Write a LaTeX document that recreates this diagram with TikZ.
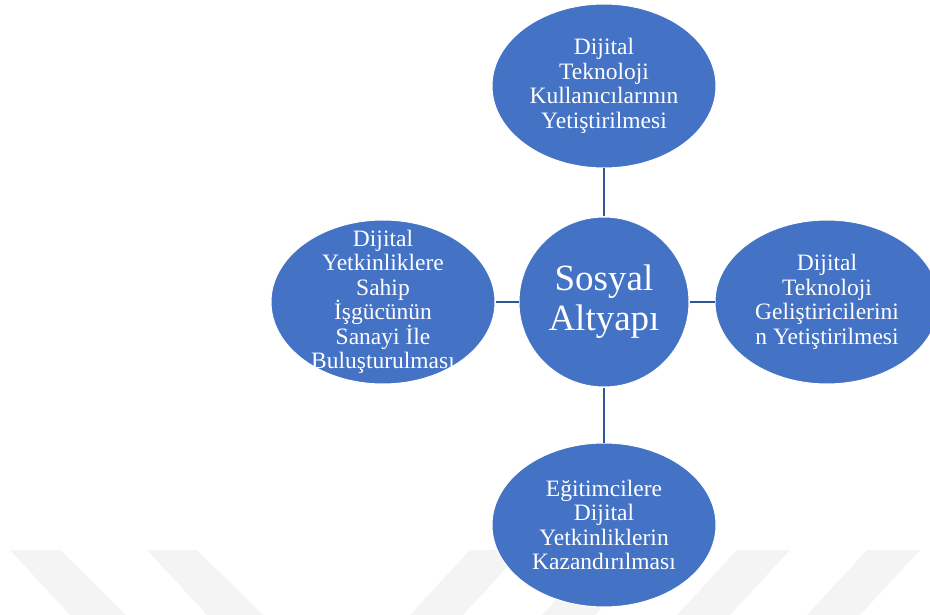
\documentclass[tikz,border=0pt]{standalone}
\usepackage{fontspec}
\setmainfont{Liberation Serif}
\usetikzlibrary{shapes.geometric, positioning}
\definecolor{ofisblue}{HTML}{4472C4}
\definecolor{linkblue}{HTML}{2F5597}
\tikzset{
	goal/.style = {ellipse, draw = white, line width = 1pt, fill = ofisblue, text = white, inner sep = 0pt, minimum width = 224pt, minimum height = 164pt, align = center, font = \fontsize{23.5}{24.5}\selectfont},
	core/.style = {circle, draw = white, line width = 1pt, fill = ofisblue, text = white, inner sep = 0pt, minimum size = 170pt, align = center, font = \fontsize{37}{40}\selectfont},
	linkline/.style = {draw = linkblue, line width = 2pt},
	stripe/.style = {fill = gray!9}
}

\begin{document}
\begin{tikzpicture}[x = 1pt, y = -1pt, on grid]
		\useasboundingbox (0,0) rectangle (930,615);
		\fill[stripe] (10,550) -- (60,550) -- (126,615) -- (70,615) -- cycle;
		\fill[stripe] (147,550) -- (197,550) -- (263,615) -- (207,615) -- cycle;
		\fill[stripe] (470,550) -- (523,550) -- (463,615) -- (410,615) -- cycle;
		\fill[stripe] (602,550) -- (655,550) -- (595,615) -- (542,615) -- cycle;
		\fill[stripe] (737,550) -- (790,550) -- (730,615) -- (677,615) -- cycle;
		\fill[stripe] (867,550) -- (920,550) -- (860,615) -- (807,615) -- cycle;
		\node (sos) [core] at (604,302) {Sosyal\\Altyapı};
		\node (kul) [goal, above = 216pt of sos] {Dijital\\Teknoloji\\Kullanıcılarının\\Yetiştirilmesi};
		\node (sah) [goal, inner ysep = -20pt, left = 221pt of sos] {Dijital\\Yetkinliklere\\Sahip\\İşgücünün\\Sanayi İle\\Buluşturulması};
		\node (gel) [goal, right = 223pt of sos] {Dijital\\Teknoloji\\Geliştiricilerini\\n Yetiştirilmesi};
		\node (egi) [goal, below = 223pt of sos] {Eğitimcilere\\Dijital\\Yetkinliklerin\\Kazandırılması};
		\path[linkline]
		(sos) edge (kul)
		(sos) edge (sah)
		(sos) edge (gel)
		(sos) edge (egi);
\end{tikzpicture}
\end{document}
